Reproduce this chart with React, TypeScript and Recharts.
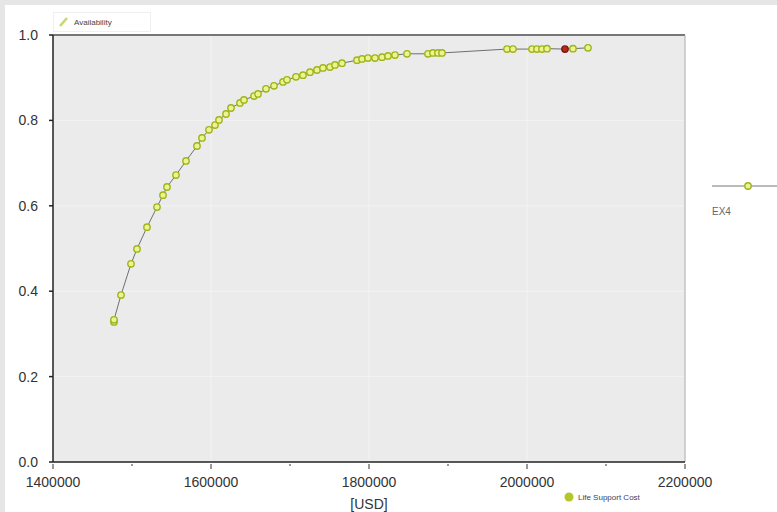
import React from 'react';
import { LineChart, Line, XAxis, YAxis, CartesianGrid, ReferenceLine } from 'recharts';

// Life support cost [USD] vs. availability, series EX4
const cost = [
  1477215, 1477215, 1486074, 1498730, 1506327, 1518985, 1531643, 1539238, 1544301, 1555693,
  1568352, 1582275, 1588604, 1597465, 1605060, 1610123, 1618983, 1625312, 1636705, 1641768,
  1654426, 1659490, 1669616, 1679742, 1691134, 1696198, 1707589, 1716450, 1725311, 1734171,
  1741766, 1750627, 1756956, 1765816, 1784803, 1791132, 1798727, 1807588, 1816448, 1824043,
  1832904, 1848093, 1874676, 1881005, 1887334, 1892397, 1974675, 1982270, 2006320, 2012649,
  2018978, 2025307, 2048091, 2058218, 2077204,
];
const availability = [
  0.328, 0.333, 0.391, 0.464, 0.499, 0.550, 0.597, 0.625, 0.644, 0.672,
  0.705, 0.740, 0.759, 0.778, 0.789, 0.801, 0.815, 0.829, 0.841, 0.848,
  0.857, 0.862, 0.874, 0.881, 0.890, 0.895, 0.902, 0.906, 0.913, 0.918,
  0.923, 0.925, 0.930, 0.934, 0.941, 0.944, 0.946, 0.946, 0.948, 0.951,
  0.953, 0.956, 0.956, 0.958, 0.958, 0.958, 0.967, 0.967, 0.967, 0.967,
  0.967, 0.968, 0.967, 0.968, 0.970,
];
const selectedCost = 2048091;

const xTicks = [1400000, 1500000, 1600000, 1700000, 1800000, 1900000, 2000000, 2100000, 2200000];
const yTicks = [0, 0.2, 0.4, 0.6, 0.8, 1.0];

const data = cost.map((c, i) => ({ cost: c, availability: availability[i] }));

const font = 'Arial, Liberation Sans, sans-serif';

const XTick = (props: any) => {
  const { x, y, payload } = props;
  const major = payload.value % 200000 === 0;
  return (
    <g>
      <line x1={x} x2={x} y1={y - 6} y2={y - (major ? 1 : 4)} stroke="#333" />
      {major && (
        <text x={x} y={y + 17} textAnchor="middle" fontSize={14} fill="#333" fontFamily={font}>
          {payload.value}
        </text>
      )}
    </g>
  );
};

const Dot = (props: any) => {
  const { cx, cy, payload, index } = props;
  const sel = payload.cost === selectedCost;
  return (
    <circle
      key={index}
      cx={cx}
      cy={cy}
      r={3.2}
      fill={sel ? '#b52a1c' : '#eef38e'}
      stroke={sel ? '#7a1a10' : '#9db51e'}
      strokeWidth={1.4}
    />
  );
};

export default function App() {
  return (
    <div style={{ position: 'absolute', left: 0, top: 0, width: 777, height: 512, background: '#e6e6e6' }}>
      <div style={{ position: 'absolute', left: 5, top: 5, width: 772, height: 507, background: '#fff' }} />
      <div style={{ position: 'absolute', left: 0, top: 0 }}>
        <LineChart width={777} height={512} data={data} margin={{ top: 35, right: 92, bottom: 0, left: 0 }}>
          <CartesianGrid fill="#ebebeb" stroke="#f3f3f3" horizontalValues={[0.2, 0.4, 0.6, 0.8]} verticalValues={[1600000, 1800000, 2000000]} />
          <XAxis
            dataKey="cost"
            type="number"
            domain={[1400000, 2200000]}
            ticks={xTicks}
            interval={0}
            height={50}
            stroke="#222"
            strokeWidth={1.5}
            tickLine={false}
            tick={<XTick />}
            label={{ value: '[USD]', position: 'insideBottom', offset: 3, fontSize: 14, fill: '#333', fontFamily: font }}
          />
          <YAxis
            dataKey="availability"
            type="number"
            domain={[0, 1]}
            ticks={yTicks}
            width={53}
            stroke="#222"
            strokeWidth={1.5}
            tickSize={4}
            tickMargin={11}
            tickFormatter={(v: number) => v.toFixed(1)}
            tick={{ fontSize: 14, fill: '#333', fontFamily: font }}
          />
          <ReferenceLine y={1} stroke="#777" strokeWidth={2} />
          <ReferenceLine x={2200000} stroke="#aaa" />
          <Line
            dataKey="availability"
            stroke="#6f6f6f"
            strokeWidth={1}
            dot={<Dot />}
            activeDot={false}
            isAnimationActive={false}
          />
        </LineChart>
      </div>
      {/* top-left legend */}
      <div style={{ position: 'absolute', left: 53, top: 12, width: 96, height: 18, background: '#fff', border: '1px solid #f0f0f0', fontFamily: font, fontSize: 8, color: '#444', display: 'flex', alignItems: 'center' }}>
        <svg width={14} height={14} style={{ marginLeft: 3, marginRight: 3 }}>
          <line x1={3} y1={11} x2={10} y2={3} stroke="#c9d86a" strokeWidth={2.5} />
        </svg>
        Availability
      </div>
      {/* right legend */}
      <svg style={{ position: 'absolute', left: 710, top: 178 }} width={67} height={16}>
        <line x1={2} y1={8} x2={67} y2={8} stroke="#777" />
        <circle cx={38} cy={8} r={3.2} fill="#eef38e" stroke="#9db51e" strokeWidth={1.4} />
      </svg>
      <div style={{ position: 'absolute', left: 712, top: 206, fontFamily: font, fontSize: 10, color: '#666' }}>EX4</div>
      {/* bottom-right legend */}
      <div style={{ position: 'absolute', left: 563, top: 491, fontFamily: font, fontSize: 8, color: '#3a4060', display: 'flex', alignItems: 'center' }}>
        <svg width={12} height={12} style={{ marginRight: 3 }}>
          <circle cx={6} cy={6} r={4.5} fill="#b5c62a" />
        </svg>
        Life Support Cost
      </div>
    </div>
  );
}
